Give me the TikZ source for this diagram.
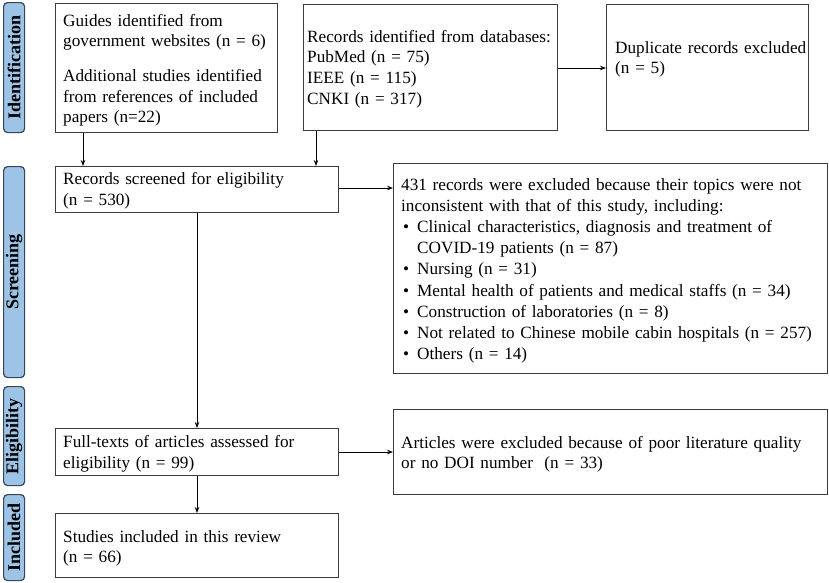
\documentclass[tikz,border=0pt]{standalone}
\usepackage{fontspec}
\setmainfont{Liberation Serif}
\usetikzlibrary{arrows.meta}
\definecolor{barfill}{RGB}{157,195,230}
\definecolor{barline}{RGB}{55,70,90}
\definecolor{boxline}{RGB}{60,60,60}
\tikzset{
  box/.style={draw=boxline, line width=1.4pt, inner sep=0pt, anchor=north west},
  bar/.style={draw=barline, fill=barfill, line width=1.2pt, rounded corners=4pt, inner sep=0pt, anchor=north west},
  barlabel/.style={rotate=90, font=\fontsize{18}{20}\selectfont\bfseries, inner sep=0pt},
  txt/.style={anchor=base west, inner sep=0pt, align=left, text width=#1, font=\fontsize{17.2}{20.7}\selectfont},
  conn/.style={line width=0.9pt, -{Stealth[length=6pt,width=4.5pt]}}
}
\begin{document}
\begin{tikzpicture}[x=1pt,y=-1pt]
\useasboundingbox (0,0) rectangle (829,582);
% side bars
\node[bar, minimum width=21pt, minimum height=130pt] (b1) at (3,2) {};
\node[barlabel] at (b1.center) {Identification};
\node[bar, minimum width=21pt, minimum height=211pt] (b2) at (3,166) {};
\node[barlabel] at (b2.center) {Screening};
\node[bar, minimum width=21pt, minimum height=99pt] (b3) at (3,386) {};
\node[barlabel] at (b3.center) {Eligibility};
\node[bar, minimum width=21pt, minimum height=86pt] (b4) at (3,494) {};
\node[barlabel] at (b4.center) {Included};
% boxes
\node[box, minimum width=222pt, minimum height=129pt] (guides) at (55,3) {};
\node[txt=215pt] at (63,26) {Guides identified from\\government websites (n = 6)\\[14pt]Additional studies identified\\from references of included\\papers (n=22)};
\node[box, minimum width=254pt, minimum height=126pt] (db) at (303,4) {};
\node[txt=300pt] at (307,42) {Records identified from databases:\\PubMed (n = 75)\\IEEE (n = 115)\\CNKI (n = 317)};
\node[box, minimum width=202pt, minimum height=126pt] (dup) at (606,4) {};
\node[txt=220pt] at (615,53) {Duplicate records excluded\\(n = 5)};
\node[box, minimum width=283pt, minimum height=46pt] (scr) at (55,166) {};
\node[txt=275pt] at (63,184.5) {Records screened for eligibility\\(n = 530)};
\node[box, minimum width=434pt, minimum height=210pt] (exc) at (393,163) {};
\node[txt=440pt, font=\fontsize{17.2}{21.2}\selectfont] at (401,190) {431 records were excluded because their topics were not\\inconsistent with that of this study, including:\\
\makebox[16pt][l]{\hspace{2pt}\textbullet}Clinical characteristics, diagnosis and treatment of\\
\hspace{16pt}COVID-19 patients (n = 87)\\
\makebox[16pt][l]{\hspace{2pt}\textbullet}Nursing (n = 31)\\
\makebox[16pt][l]{\hspace{2pt}\textbullet}Mental health of patients and medical staffs (n = 34)\\
\makebox[16pt][l]{\hspace{2pt}\textbullet}Construction of laboratories (n = 8)\\
\makebox[16pt][l]{\hspace{2pt}\textbullet}Not related to Chinese mobile cabin hospitals (n = 257)\\
\makebox[16pt][l]{\hspace{2pt}\textbullet}Others (n = 14)};
\node[box, minimum width=283pt, minimum height=47pt] (full) at (55,428) {};
\node[txt=275pt] at (63,447.5) {Full-texts of articles assessed for\\eligibility (n = 99)};
\node[box, minimum width=434pt, minimum height=85pt] (art) at (393,409) {};
\node[txt=440pt] at (401,448) {Articles were excluded because of poor literature quality\\or no DOI number\ \ (n = 33)};
\node[box, minimum width=283pt, minimum height=64pt] (inc) at (55,513) {};
\node[txt=275pt] at (63,542) {Studies included in this review\\(n = 66)};
% connectors
\draw[conn] (guides.south west) ++(28,0) coordinate (g1) -- (g1 |- scr.north);
\draw[conn] (db.south west) ++(13,0) coordinate (d1) -- (d1 |- scr.north);
\draw[conn] (db.east |- 0,68) -- (dup.west |- 0,68);
\draw[conn] (scr.east |- 0,188) -- (exc.west |- 0,188);
\draw[conn] (scr.south west) ++(142,0) coordinate (s1) -- (s1 |- full.north);
\draw[conn] (full.east |- 0,452) -- (art.west |- 0,452);
\draw[conn] (full.south west) ++(142,0) coordinate (f1) -- (f1 |- inc.north);
\end{tikzpicture}
\end{document}
